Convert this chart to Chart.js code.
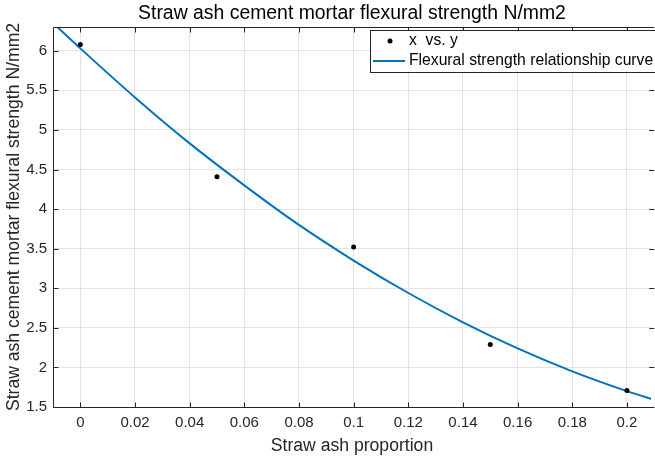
<!DOCTYPE html>
<html>
<head>
<meta charset="utf-8">
<script src="https://cdn.jsdelivr.net/npm/chart.js@4.4.0/dist/chart.umd.min.js"></script>
<style>
  html, body { margin: 0; padding: 0; background: #fff; }
  #wrap { width: 655px; height: 457px; }
</style>
</head>
<body>
<div id="wrap"><canvas id="chart"></canvas></div>
<script>
'use strict'

/* global Chart */

// measured points
const proportion = [0, 0.05, 0.1, 0.15, 0.2]
const strength = [6.08, 4.41, 3.52, 2.29, 1.71]

// fitted curve
const curveX = [-0.01, 0, 0.02, 0.04, 0.06, 0.08, 0.1, 0.12, 0.14, 0.16, 0.18, 0.2, 0.21]
const curveY = [6.35, 6.03, 5.41, 4.83, 4.3, 3.8, 3.35, 2.94, 2.57, 2.24, 1.95, 1.7, 1.59]

const xTicks = [0, 0.02, 0.04, 0.06, 0.08, 0.1, 0.12, 0.14, 0.16, 0.18, 0.2]
const xTickLabels = ['0', '0.02', '0.04', '0.06', '0.08', '0.1', '0.12', '0.14', '0.16', '0.18', '0.2']
const yTicks = [1.5, 2, 2.5, 3, 3.5, 4, 4.5, 5, 5.5, 6]
const yTickLabels = ['1.5', '2', '2.5', '3', '3.5', '4', '4.5', '5', '5.5', '6']

const FONT = '"Liberation Sans", Arial, Helvetica, sans-serif'
const AXIS_COLOR = '#262626'
const GRID_COLOR = '#e3e3e3'

// box round the axes with inward ticks, like matlab
const framePlugin = {
  id: 'frame',
  afterDatasetsDraw (chart) {
    const ctx = chart.ctx
    const xs = chart.scales.x
    const ys = chart.scales.y
    const left = Math.round(chart.chartArea.left) + 0.5
    const top = Math.round(chart.chartArea.top) + 0.5
    const bottom = Math.round(chart.chartArea.bottom) + 0.5
    const right = xs.getPixelForValue(0.21)
    const len = 5
    ctx.save()
    ctx.strokeStyle = AXIS_COLOR
    ctx.lineWidth = 1
    ctx.beginPath()
    ctx.moveTo(right, top)
    ctx.lineTo(left, top)
    ctx.lineTo(left, bottom)
    ctx.lineTo(right, bottom)
    xTicks.forEach((v) => {
      const px = Math.round(xs.getPixelForValue(v)) + 0.5
      ctx.moveTo(px, bottom)
      ctx.lineTo(px, bottom - len)
      ctx.moveTo(px, top)
      ctx.lineTo(px, top + len)
    })
    yTicks.forEach((v) => {
      const py = Math.round(ys.getPixelForValue(v)) + 0.5
      ctx.moveTo(left, py)
      ctx.lineTo(left + len, py)
      ctx.moveTo(right, py)
      ctx.lineTo(right - len, py)
    })
    ctx.stroke()
    ctx.restore()
  }
}

// legend box in the top right corner
const legendPlugin = {
  id: 'boxLegend',
  afterDraw (chart) {
    const ctx = chart.ctx
    const sets = chart.data.datasets
    const bx = 370.5
    const by = 30.5
    ctx.save()
    ctx.fillStyle = '#fff'
    ctx.strokeStyle = AXIS_COLOR
    ctx.lineWidth = 1
    ctx.fillRect(bx, by, 320, 42)
    ctx.strokeRect(bx, by, 320, 42)

    ctx.font = '15.7px ' + FONT
    ctx.textBaseline = 'middle'

    ctx.beginPath()
    ctx.arc(390, 41, 2.5, 0, Math.PI * 2)
    ctx.fillStyle = sets[0].backgroundColor
    ctx.fill()
    ctx.fillStyle = '#000'
    ctx.fillText(sets[0].label, 409, 41)

    ctx.beginPath()
    ctx.moveTo(373, 61)
    ctx.lineTo(405, 61)
    ctx.strokeStyle = sets[1].borderColor
    ctx.lineWidth = 2
    ctx.stroke()
    ctx.fillText(sets[1].label, 409, 61)
    ctx.restore()
  }
}

const pointData = proportion.map((x, i) => ({ x: x, y: strength[i] }))
const curveData = curveX.map((x, i) => ({ x: x, y: curveY[i] }))

const chart = new Chart(document.getElementById('chart'), {
  type: 'scatter',
  data: {
    datasets: [{
      label: 'x  vs. y',
      data: pointData,
      backgroundColor: '#000',
      borderColor: '#000',
      pointRadius: 2.5,
      pointBorderWidth: 0,
      showLine: false
    }, {
      label: 'Flexural strength relationship curve',
      data: curveData,
      borderColor: '#0072BD',
      backgroundColor: '#0072BD',
      borderWidth: 2,
      pointRadius: 0,
      showLine: true,
      cubicInterpolationMode: 'monotone'
    }]
  },
  options: {
    responsive: true,
    maintainAspectRatio: false,
    animation: false,
    layout: { padding: { left: 0, right: 0, top: 0, bottom: 0 } },
    plugins: {
      legend: { display: false },
      tooltip: { enabled: false },
      title: {
        display: true,
        text: 'Straw ash cement mortar flexural strength N/mm2',
        fullSize: false,
        color: '#000',
        font: { family: FONT, size: 19.4, weight: 'normal', lineHeight: 1 },
        padding: { top: 4, bottom: 3.6 }
      }
    },
    scales: {
      x: {
        type: 'linear',
        min: -0.01,
        max: 0.2088,
        afterBuildTicks: (scale) => { scale.ticks = xTicks.map((v) => ({ value: v })) },
        afterFit: (scale) => { scale.height = 50 },
        grid: { color: GRID_COLOR, drawTicks: false },
        border: { display: false },
        ticks: {
          padding: 7,
          color: AXIS_COLOR,
          font: { family: FONT, size: 15 },
          maxRotation: 0,
          autoSkip: false,
          callback: (value) => xTickLabels[xTicks.indexOf(value)]
        },
        title: {
          display: true,
          text: 'Straw ash proportion',
          color: AXIS_COLOR,
          font: { family: FONT, size: 17.6 },
          padding: { top: 0, bottom: 0 }
        }
      },
      y: {
        type: 'linear',
        min: 1.5,
        max: 6.3,
        afterBuildTicks: (scale) => { scale.ticks = yTicks.map((v) => ({ value: v })) },
        afterFit: (scale) => { scale.width = 53 },
        grid: { color: GRID_COLOR, drawTicks: false },
        border: { display: false },
        ticks: {
          padding: 6,
          color: AXIS_COLOR,
          font: { family: FONT, size: 15 },
          autoSkip: false,
          callback: (value) => yTickLabels[yTicks.indexOf(value)]
        },
        title: {
          display: true,
          text: 'Straw ash cement mortar flexural strength N/mm2',
          color: AXIS_COLOR,
          font: { family: FONT, size: 17.6 },
          padding: { top: 4, bottom: 0 }
        }
      }
    }
  },
  plugins: [framePlugin, legendPlugin]
})
</script>
</body>
</html>
